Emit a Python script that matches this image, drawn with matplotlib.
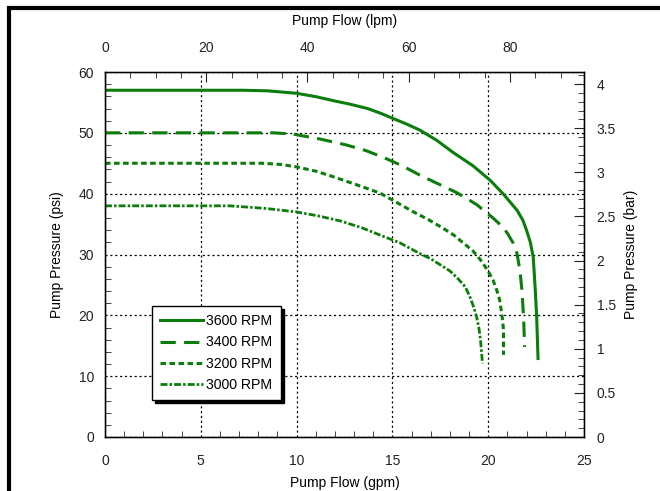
import matplotlib
matplotlib.use("Agg")
import matplotlib.pyplot as plt
from matplotlib.ticker import MultipleLocator, FuncFormatter
from matplotlib.patches import Rectangle

plt.rcParams['font.family'] = ['Liberation Sans', 'DejaVu Sans']
plt.rcParams['lines.scale_dashes'] = False

# Data (gpm, psi)
gpm_3600 = [0, 7.2, 8.5, 10.0, 11.0, 11.9, 12.8, 13.7, 14.4, 15.0, 15.7, 16.4, 17.3, 18.2,
            19.2, 20.1, 20.8, 21.5, 21.8, 22.0, 22.2, 22.35, 22.45, 22.53, 22.6]
psi_3600 = [57.0, 57.0, 56.9, 56.5, 55.95, 55.3, 54.7, 54.0, 53.2, 52.4, 51.5, 50.5, 48.8, 46.7,
            44.6, 42.2, 39.9, 37.3, 35.7, 34.0, 32.0, 29.6, 24.5, 19.8, 12.9]

gpm_3400 = [0, 8.8, 9.8, 11.2, 12.6, 13.6, 14.5, 15.5, 16.4, 17.4, 18.4, 19.4, 20.25, 20.7,
            21.0, 21.3, 21.5, 21.65, 21.76, 21.85, 21.9]
psi_3400 = [50.0, 50.0, 49.8, 49.0, 48.0, 47.1, 46.0, 44.6, 43.1, 41.6, 40.1, 38.2, 36.0, 34.7,
            33.5, 31.9, 30.2, 27.5, 24.2, 19.5, 14.8]

gpm_3200 = [0, 8.25, 9.2, 10.0, 11.0, 11.9, 13.1, 14.35, 15.2, 16.1, 16.9, 17.6, 18.2, 18.7,
            19.2, 19.6, 19.95, 20.25, 20.45, 20.6, 20.72, 20.8, 20.8]
psi_3200 = [45.0, 45.0, 44.8, 44.4, 43.7, 42.8, 41.5, 40.1, 38.6, 37.0, 35.7, 34.4, 33.2, 31.9,
            30.6, 29.1, 27.5, 25.8, 24.1, 22.5, 20.0, 17.6, 13.5]

gpm_3000 = [0, 6.5, 8.3, 10.0, 11.2, 12.3, 13.4, 14.35, 15.4, 16.4, 17.0, 17.5, 18.0, 18.4,
            18.8, 19.05, 19.25, 19.4, 19.52, 19.6, 19.7]
psi_3000 = [38.0, 38.0, 37.6, 37.0, 36.3, 35.5, 34.4, 33.2, 31.9, 30.2, 29.3, 28.3, 27.3, 26.1,
            24.7, 23.0, 21.3, 19.7, 17.8, 15.9, 12.1]

labels = ["3600 RPM", "3400 RPM", "3200 RPM", "3000 RPM"]
GPM_TO_LPM = 3.785
PSI_TO_BAR = 1 / 14.5038

green = "#0a7d0a"

fig = plt.figure(figsize=(6.6, 4.91), dpi=100)
ax = fig.add_axes([105/660, 1-437/491, 479/660, 365/491])

kw = dict(color=green, solid_joinstyle='round', dash_joinstyle='round')
ax.plot(gpm_3600, psi_3600, lw=2.2, ls='-', label=labels[0], **kw)
ax.plot(gpm_3400, psi_3400, lw=2.2, dashes=(11, 6), label=labels[1], **kw)
ax.plot(gpm_3200, psi_3200, lw=2.2, dashes=(4, 2.5), label=labels[2], **kw)
ax.plot(gpm_3000, psi_3000, lw=2.0, dashes=(5, 1.5, 1.8, 1.5), label=labels[3], **kw)

ax.set_xlim(0, 25)
ax.set_ylim(0, 60)
ax.xaxis.set_major_locator(MultipleLocator(5))
ax.xaxis.set_minor_locator(MultipleLocator(1))
ax.yaxis.set_major_locator(MultipleLocator(10))
ax.yaxis.set_minor_locator(MultipleLocator(2))
ax.grid(True, which='major', color='black', lw=0.9, ls=(0, (1.5, 2)))
ax.tick_params(which='both', direction='in', labelsize=10, colors='#222222',
               bottom=True, top=False, left=True, right=False)
ax.tick_params(which='major', length=0, pad=12)
ax.tick_params(which='minor', length=4)
ax.tick_params(axis='y', which='major', pad=8)
for s in ax.spines.values():
    s.set_color('black')
    s.set_linewidth(1.0)
ax.set_xlabel("Pump Flow (gpm)", fontsize=10, labelpad=6)
ax.set_ylabel("Pump Pressure (psi)", fontsize=10, labelpad=10)

# top axis (lpm)
axt = ax.twiny()
axt.set_xlim(0, 25 * GPM_TO_LPM)
axt.xaxis.set_major_locator(MultipleLocator(20))
axt.xaxis.set_minor_locator(MultipleLocator(5))
axt.tick_params(which='both', direction='in', labelsize=10, colors='#222222')
axt.tick_params(which='major', length=7, pad=12)
axt.tick_params(which='minor', length=4)
axt.set_xlabel("Pump Flow (lpm)", fontsize=10, labelpad=12)

# right axis (bar)
axr = ax.twinx()
axr.set_ylim(0, 60 * PSI_TO_BAR)
axr.yaxis.set_major_locator(MultipleLocator(0.5))
axr.yaxis.set_minor_locator(MultipleLocator(0.1))
axr.tick_params(which='both', direction='in', labelsize=10, colors='#222222')
axr.tick_params(which='major', length=7, pad=9)
axr.tick_params(which='minor', length=4)
axr.yaxis.set_major_formatter(FuncFormatter(lambda v, p: f"{v:g}"))
axr.set_ylabel("Pump Pressure (bar)", fontsize=10, labelpad=6)

leg = ax.legend(loc='lower left', bbox_to_anchor=(0.098, 0.101), borderaxespad=0,
                fontsize=10.2, frameon=True, fancybox=False, edgecolor='black',
                framealpha=1, handlelength=3.0, handletextpad=0.25,
                labelspacing=0.5, borderpad=0.6,
                shadow={'color': 'black', 'alpha': 1})
leg.get_frame().set_linewidth(1.0)
leg.set_zorder(10)

# figure border (left and top)
fig.add_artist(Rectangle((9/660, -0.1), 2, 1.1 - 8/491, transform=fig.transFigure,
                         fill=False, edgecolor='black', lw=3))

fig.savefig("out.png", dpi=100)
